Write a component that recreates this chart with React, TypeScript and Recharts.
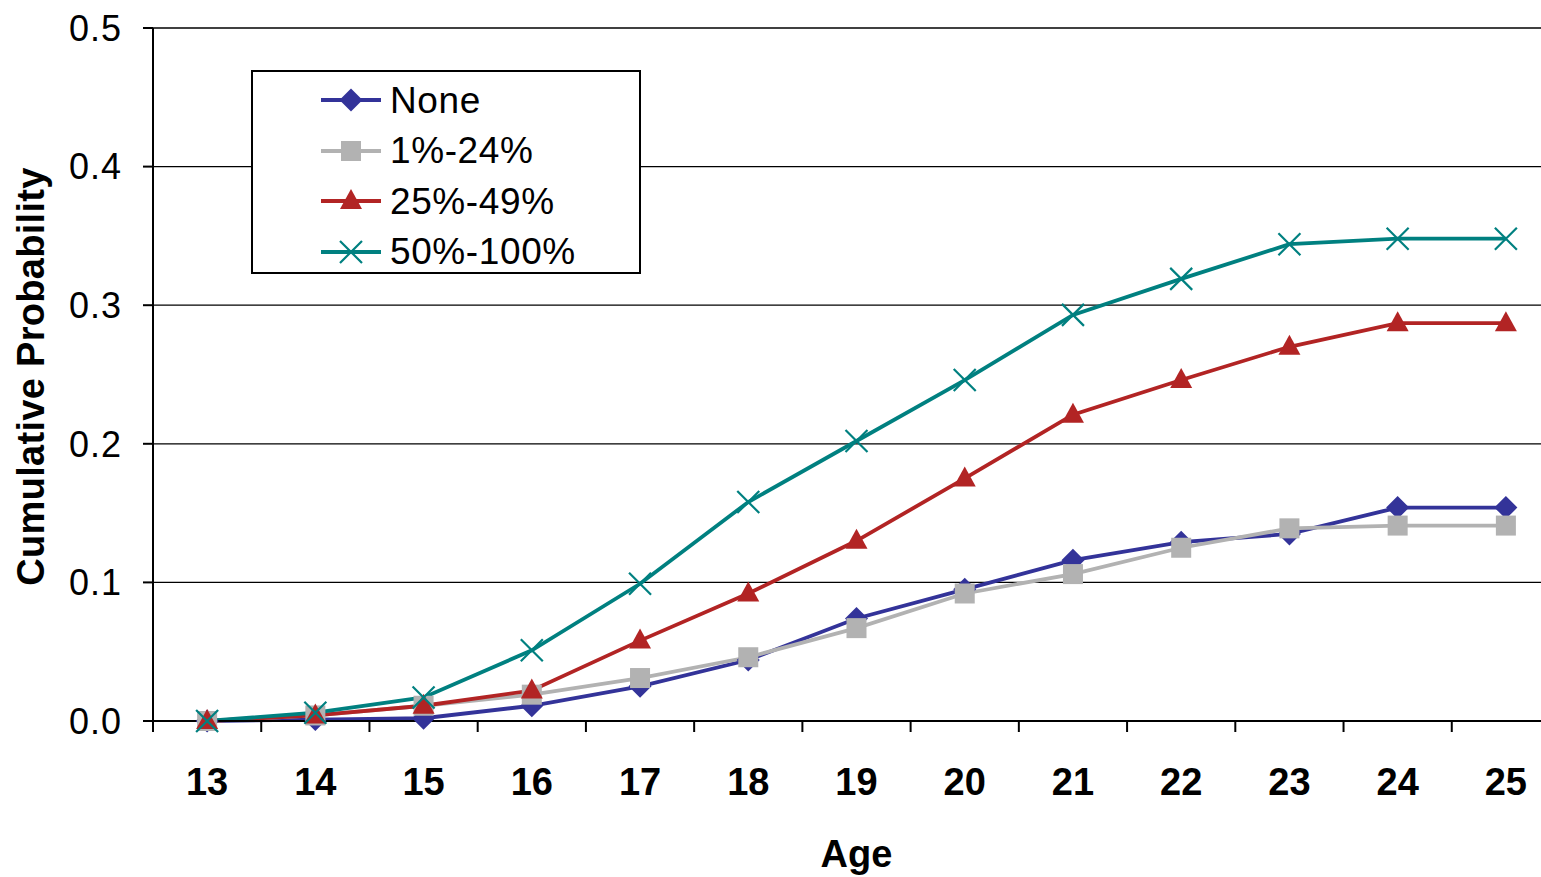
import React from 'react'
import { LineChart, Line, XAxis, YAxis, CartesianGrid, Legend } from 'recharts'

const AGES = [13, 14, 15, 16, 17, 18, 19, 20, 21, 22, 23, 24, 25]
const NONE = [0, 0.001, 0.002, 0.011, 0.025, 0.044, 0.074, 0.095, 0.116, 0.129, 0.135, 0.154, 0.154]
const LOW = [0, 0.004, 0.011, 0.019, 0.031, 0.046, 0.067, 0.092, 0.106, 0.125, 0.139, 0.141, 0.141]
const MID = [0, 0.004, 0.011, 0.022, 0.058, 0.092, 0.130, 0.175, 0.221, 0.246, 0.270, 0.287, 0.287]
const HIGH = [0, 0.006, 0.017, 0.051, 0.099, 0.158, 0.202, 0.246, 0.293, 0.319, 0.344, 0.348, 0.348]
const Y_TICKS = [0, 0.1, 0.2, 0.3, 0.4, 0.5]

const data = AGES.map((age, i) => ({
  age,
  none: NONE[i],
  low: LOW[i],
  mid: MID[i],
  high: HIGH[i],
}))

const SERIES = [
  { key: 'none', name: 'None', color: '#333399', shape: 'diamond' },
  { key: 'low', name: '1%-24%', color: '#b2b2b2', shape: 'square' },
  { key: 'mid', name: '25%-49%', color: '#b22424', shape: 'triangle' },
  { key: 'high', name: '50%-100%', color: '#008080', shape: 'cross' },
]

const FONT = '"Liberation Sans", Arial, sans-serif'
const CHART_W = 1575
const CHART_H = 877
const MARGIN = { top: 28, right: 15, bottom: 0, left: 53 }
const Y_W = 100
const PLOT_W = CHART_W - MARGIN.left - MARGIN.right - Y_W
const HALF_BAND = PLOT_W / AGES.length / 2

function marker(shape: string, color: string, cx: number, cy: number, key?: string) {
  if (shape === 'diamond') {
    return <path key={key} d={`M${cx},${cy - 11.5}L${cx + 11.5},${cy}L${cx},${cy + 11.5}L${cx - 11.5},${cy}Z`} fill={color} />
  }
  if (shape === 'square') {
    return <rect key={key} x={cx - 10} y={cy - 10} width={20} height={20} fill={color} />
  }
  if (shape === 'triangle') {
    return <path key={key} d={`M${cx},${cy - 12}L${cx + 11},${cy + 8}L${cx - 11},${cy + 8}Z`} fill={color} />
  }
  return (
    <path key={key} d={`M${cx - 11},${cy - 11}L${cx + 11},${cy + 11}M${cx + 11},${cy - 11}L${cx - 11},${cy + 11}`} stroke={color} strokeWidth={2.2} fill="none" />
  )
}

const makeDot = (shape: string, color: string) => (p: any) => {
  if (p.cx == null || p.cy == null) return <g key={`${shape}-${p.index}`} />
  return marker(shape, color, p.cx, p.cy, `${shape}-${p.index}`)
}

const AgeTick = (props: any) => {
  const { x, y, payload } = props
  return (
    <g>
      <line x1={x - HALF_BAND} x2={x - HALF_BAND} y1={y} y2={y + 11} stroke="#000" strokeWidth={2} />
      <text x={x} y={y + 74} textAnchor="middle" fontFamily={FONT} fontWeight="bold" fontSize={38} fill="#000">
        {payload.value}
      </text>
    </g>
  )
}

const renderLegend = () => (
  <div
    style={{
      width: 390,
      height: 204,
      boxSizing: 'border-box',
      border: '2px solid #000',
      background: '#fff',
      paddingTop: 3,
      fontFamily: FONT,
      fontSize: 37,
      color: '#000',
    }}
  >
    {SERIES.map(s => (
      <div key={s.key} style={{ height: 50.5, display: 'flex', alignItems: 'center', paddingLeft: 67 }}>
        <svg width={62} height={30} style={{ marginRight: 8 }}>
          <line x1={1} x2={61} y1={15} y2={15} stroke={s.color} strokeWidth={3.8} />
          {marker(s.shape, s.color, 31, 15)}
        </svg>
        <span style={{ lineHeight: 1, letterSpacing: 0.6 }}>{s.name}</span>
      </div>
    ))}
  </div>
)

export default function App() {
  return (
    <div style={{ position: 'fixed', left: 0, top: 0, width: 1541, height: 877, overflow: 'hidden', background: '#fff' }}>
      <LineChart width={CHART_W} height={CHART_H} data={data} margin={MARGIN}>
        <CartesianGrid vertical={false} stroke="#000" strokeWidth={1.3} />
        <XAxis
          dataKey="age"
          scale="point"
          padding={{ left: HALF_BAND, right: HALF_BAND }}
          axisLine={{ stroke: '#000', strokeWidth: 2 }}
          tickLine={false}
          tickSize={0}
          tickMargin={0}
          height={156}
          interval={0}
          tick={<AgeTick />}
          label={{
            content: (p: any) => (
              <text
                x={p.viewBox.x + p.viewBox.width / 2}
                y={p.viewBox.y + 146}
                textAnchor="middle"
                fontFamily={FONT}
                fontWeight="bold"
                fontSize={38}
                fill="#000"
              >
                Age
              </text>
            ),
          }}
        />
        <YAxis
          width={Y_W}
          domain={[0, 0.5]}
          ticks={Y_TICKS}
          tickFormatter={(v: number) => v.toFixed(1)}
          axisLine={{ stroke: '#000', strokeWidth: 2 }}
          tickLine={{ stroke: '#000', strokeWidth: 2 }}
          tickSize={10}
          tickMargin={21}
          tick={{ fontFamily: FONT, fontSize: 36, fill: '#000', letterSpacing: 1 }}
          label={{
            content: (p: any) => {
              const cx = 31
              const cy = p.viewBox.y + p.viewBox.height / 2 + 2
              return (
                <text
                  x={cx}
                  y={cy}
                  transform={`rotate(-90 ${cx} ${cy})`}
                  textAnchor="middle"
                  dominantBaseline="central"
                  fontFamily={FONT}
                  fontWeight="bold"
                  fontSize={38}
                  letterSpacing={0.3}
                  fill="#000"
                >
                  Cumulative Probability
                </text>
              )
            },
          }}
        />
        <Legend
          layout="vertical"
          align="center"
          verticalAlign="middle"
          content={renderLegend}
          wrapperStyle={{ left: 251, top: 70, width: 390, height: 204 }}
        />
        {SERIES.map(s => (
          <Line
            key={s.key}
            dataKey={s.key}
            name={s.name}
            stroke={s.color}
            strokeWidth={3.8}
            dot={makeDot(s.shape, s.color)}
            activeDot={false}
            isAnimationActive={false}
          />
        ))}
      </LineChart>
    </div>
  )
}
